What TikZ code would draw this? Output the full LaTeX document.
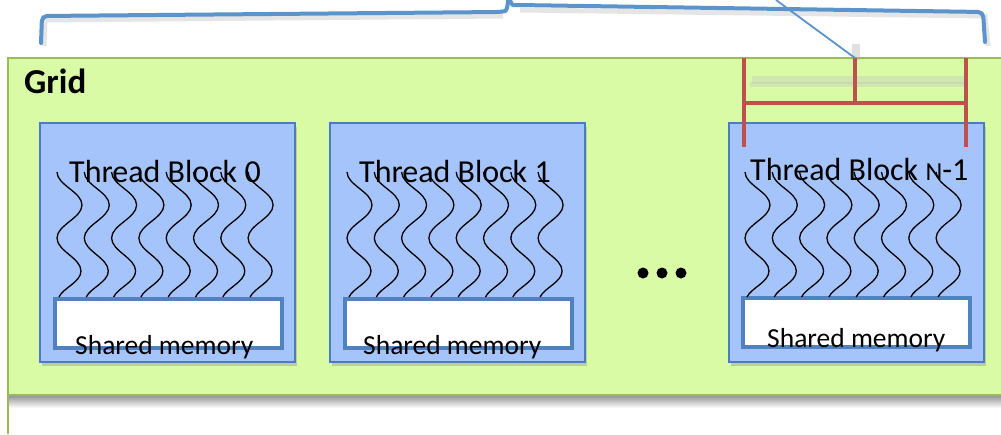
\documentclass[tikz,border=0pt]{standalone}
\usepackage{fontspec}
\setmainfont{Carlito}
\usetikzlibrary{shadows}
\definecolor{gridfill}{HTML}{D9FBA5}
\definecolor{gridline}{HTML}{9BBB59}
\definecolor{blockfill}{HTML}{A6C4FC}
\definecolor{blockline}{HTML}{4A7EBB}
\definecolor{memline}{HTML}{5082C0}
\definecolor{bracecol}{HTML}{5B93CB}
\definecolor{redcol}{HTML}{C0504D}
\tikzset{pics/wave/.style={code={
  \draw[line width=1.3pt, black] (3,0) .. controls (3,13) and (28,20) .. (28,33)
     .. controls (28,46) and (3,53) .. (3,66)
     .. controls (3,79) and (27,86) .. (27,99)
     .. controls (27,110) and (9,116) .. (5,125);}}}
\begin{document}
\begin{tikzpicture}[x=1pt,y=-1pt,
  blockbox/.style={draw=blockline, line width=1.3pt, fill=blockfill, inner sep=0pt,
    minimum width=255pt, minimum height=239pt,
    drop shadow={shadow xshift=2pt, shadow yshift=-4pt, opacity=0.35}},
  membox/.style={draw=memline, line width=3.5pt, fill=white, inner sep=0pt,
    minimum width=227pt, minimum height=49pt},
  titletext/.style={font=\fontsize{32}{36}\selectfont, inner sep=0pt, anchor=base west},
  memtext/.style={font=\fontsize{27.5}{31}\selectfont, inner sep=0pt, anchor=base west},
  gridtext/.style={font=\fontsize{35}{40}\selectfont\bfseries, inner sep=0pt, anchor=base west},
  brace/.style={draw=bracecol, line width=4pt, line cap=round, line join=round},
  redbar/.style={draw=redcol, line width=4.5pt},
  dotnode/.style={circle, fill=black, inner sep=0pt, minimum size=11pt}]
\useasboundingbox (0,0) rectangle (1001,434);
\fill[white] (0,0) rectangle (1001,434);

% grid
\node[draw=gridline, line width=1.5pt, fill=gridfill, inner sep=0pt, minimum width=1010pt, minimum height=337pt] (grid) at (513,226.5) {};
\shade[top color=black!40, bottom color=white] (8,396) rectangle (1001,408);
\draw[gridline, line width=1.5pt] (8,395) -- (8,434);
\node[gridtext] (gridlabel) at (24,93) {Grid};

% shadows of brace and bars
\draw[black!20, line width=5pt, opacity=0.5] (44,46) -- (45,20) -- (503,16);
\draw[black!20, line width=5pt, opacity=0.5] (520,10) -- (985,16) -- (988,46);
\draw[black!25, line width=8pt, opacity=0.35] (752,80) -- (966,80);
\draw[black!25, line width=5pt, opacity=0.35] (750,84) -- (968,84);
\fill[black!30, opacity=0.4] (852,44) rectangle (860,60);

% blocks
\node[blockbox] (b0) at (167.5,242.5) {};
\node[blockbox] (b1) at (457.5,242.5) {};
\node[blockbox] (b2) at (856.5,242.5) {};
\node[membox] (m0) at (168.5,323.5) {};
\node[membox] (m1) at (458.5,323.5) {};
\node[membox] (m2) at (856.5,322.5) {};

% threads
\foreach \bl in {40,330,728} {
  \foreach \i in {0,...,7} {
    \pic at ({\bl+14+27.3*\i},172) {wave};
  }
}

\node[titletext] (t0) at (69,182) {Thread Block 0};
\node[titletext] (t1) at (359,182) {Thread Block 1};
\node[titletext] (t2) at (750,180) {Thread Block {\fontsize{26}{30}\selectfont N}-1};
\node[memtext] (s0) at (75,354) {Shared memory};
\node[memtext] (s1) at (363,354) {Shared memory};
\node[memtext] (s2) at (767,347) {Shared memory};

% dots
\node[dotnode] (d1) at (643,273) {};
\node[dotnode] (d2) at (662,273) {};
\node[dotnode] (d3) at (681,273) {};

% red structure
\coordinate (rl) at (744,58);
\coordinate (rm) at (855,58);
\coordinate (rr) at (966,58);
\coordinate (rlb) at (744,147);
\coordinate (rrb) at (966,147);
\coordinate (rhl) at (744,103);
\coordinate (rhm) at (855,103);
\coordinate (rhr) at (966,103);
\draw[redbar] (rl) -- (rlb);
\draw[redbar] (rr) -- (rrb);
\draw[redbar] (rm) -- (rhm);
\draw[redbar] (rhl) -- (rhr);

% brace
\coordinate (tipL) at (508,0);
\coordinate (tipR) at (510,0);
\draw[brace, rounded corners=5pt] (41,43) -- (42,16) -- (500,12) .. controls (506,11) and (508,7) .. (tipL);
\draw[brace, rounded corners=5pt] (tipR) .. controls (511,4) and (513,5) .. (518,5) -- (983,12) -- (985,42);

% pointer line
\coordinate (pt) at (776,0);
\draw[bracecol, line width=1.8pt] (pt) -- (rm);
\end{tikzpicture}
\end{document}
